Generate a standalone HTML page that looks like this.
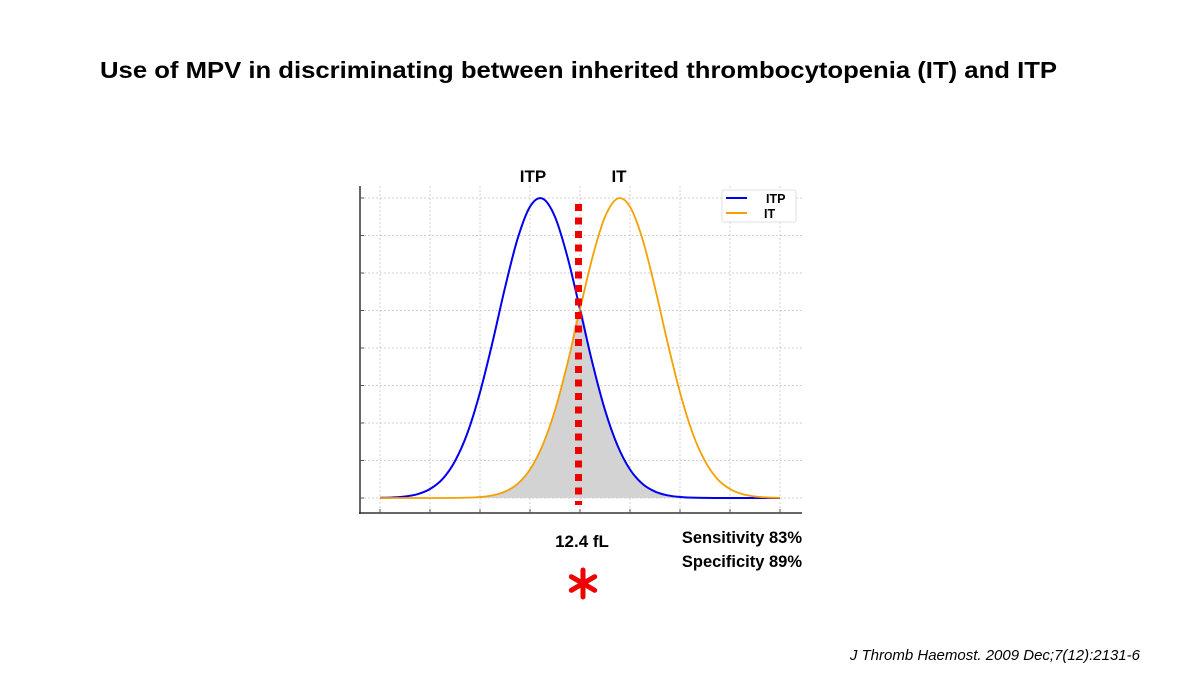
<!DOCTYPE html>
<html><head><meta charset="utf-8"><style>
html,body{margin:0;padding:0;background:#fff;}
svg{display:block;font-family:"Liberation Sans",sans-serif;}
</style></head><body>
<svg id="chart" width="1200" height="675" viewBox="0 0 1200 675">
<text x="100" y="78" font-size="23" font-weight="bold" fill="#000" textLength="957" lengthAdjust="spacingAndGlyphs">Use of MPV in discriminating between inherited thrombocytopenia (IT) and ITP</text>
<g id="grid"></g>
<path id="overlap" fill="#d3d3d3" stroke="none"/>
<path id="itpLine" fill="none" stroke="#0000ee" stroke-width="2"/>
<path id="itLine" fill="none" stroke="#f5a000" stroke-width="1.8"/>
<line id="cutoff" stroke="#ee0000" stroke-width="7" stroke-dasharray="7 6.5"/>
<g id="axes"></g>
<text x="533" y="182" font-size="17" font-weight="bold" text-anchor="middle">ITP</text>
<text x="619" y="182" font-size="17" font-weight="bold" text-anchor="middle">IT</text>
<g>
<rect x="722" y="190" width="74" height="32" fill="#fff" stroke="#e0e0e0" rx="2"/>
<line x1="726" y1="198" x2="747" y2="198" stroke="#0000ee" stroke-width="2"/>
<text x="766" y="203" font-size="12.5" font-weight="bold">ITP</text>
<line x1="726" y1="213" x2="747" y2="213" stroke="#f5a000" stroke-width="2"/>
<text x="764" y="218" font-size="12.5" font-weight="bold">IT</text>
</g>
<text x="582" y="547" font-size="17" font-weight="bold" text-anchor="middle">12.4 fL</text>
<text x="802" y="543" font-size="16.5" font-weight="bold" text-anchor="end">Sensitivity 83%</text>
<text x="802" y="567" font-size="16.5" font-weight="bold" text-anchor="end">Specificity 89%</text>
<g stroke="#ee0000" stroke-width="5" stroke-linecap="round">
<line x1="583" y1="570" x2="583" y2="597"/>
<line x1="571.3" y1="576.7" x2="594.7" y2="590.3"/>
<line x1="571.3" y1="590.3" x2="594.7" y2="576.7"/>
</g>
<text x="1140" y="660" font-size="15" font-style="italic" text-anchor="end">J Thromb Haemost. 2009 Dec;7(12):2131-6</text>
</svg>
<script>
const xValues = [0,0.25,0.5,0.75,1,1.25,1.5,1.75,2,2.25,2.5,2.75,3,3.25,3.5,3.75,4,4.25,4.5,4.75,5,5.25,5.5,5.75,6,6.25,6.5,6.75,7,7.25,7.5,7.75,8];
const itpValues = [0.0006,0.0018,0.005,0.0128,0.030,0.063,0.123,0.217,0.352,0.519,0.701,0.863,0.971,0.998,0.937,0.803,0.629,0.449,0.293,0.175,0.095,0.047,0.0215,0.0089,0.0034,0.0012,0.0004,0.0001,0,0,0,0,0];
const itValues = [0,0,0,0,0,0.0001,0.0004,0.0012,0.0034,0.0089,0.0215,0.047,0.095,0.175,0.293,0.449,0.629,0.803,0.937,0.998,0.971,0.863,0.701,0.519,0.352,0.217,0.123,0.063,0.030,0.0128,0.005,0.0018,0.0006];
const xTicks = [0,1,2,3,4,5,6,7,8];
const yTicks = [0,0.125,0.25,0.375,0.5,0.625,0.75,0.875,1];
const cutoffX = 3.97;

const sx = v => 380 + v * 50;
const sy = v => 498 - v * 300;
const NS = "http://www.w3.org/2000/svg";
function mk(tag, attrs, parent){ const e=document.createElementNS(NS,tag); for(const k in attrs) e.setAttribute(k,attrs[k]); parent.appendChild(e); return e; }

const grid = document.getElementById('grid');
xTicks.forEach(t => {
  const l = mk('line',{x1:sx(t),x2:sx(t),y1:186,y2:513,stroke:'#d0d0d0','stroke-width':1,'stroke-dasharray':'2 2'},grid);
  
  
});
yTicks.forEach(t => {
  const l = mk('line',{x1:360,x2:802,y1:sy(t),y2:sy(t),stroke:'#d0d0d0','stroke-width':1,'stroke-dasharray':'2 2'},grid);
  
  
});

function smoothPath(pts){
  let d = `M${pts[0][0]},${pts[0][1]}`;
  for(let i=0;i<pts.length-1;i++){
    const p0=pts[Math.max(0,i-1)],p1=pts[i],p2=pts[i+1],p3=pts[Math.min(pts.length-1,i+2)];
    const c1x=p1[0]+(p2[0]-p0[0])/6,c1y=p1[1]+(p2[1]-p0[1])/6;
    const c2x=p2[0]-(p3[0]-p1[0])/6,c2y=p2[1]-(p3[1]-p1[1])/6;
    d+=` C${c1x},${c1y} ${c2x},${c2y} ${p2[0]},${p2[1]}`;
  }
  return d;
}
const itpPts = xValues.map((x,i)=>[sx(x),sy(itpValues[i])]);
const itPts = xValues.map((x,i)=>[sx(x),sy(itValues[i])]);
document.getElementById('itpLine').setAttribute('d', smoothPath(itpPts));
document.getElementById('itLine').setAttribute('d', smoothPath(itPts));
const minPts = xValues.map((x,i)=>[sx(x),sy(Math.min(itpValues[i],itValues[i]))]);
document.getElementById('overlap').setAttribute('d', smoothPath(minPts)+` L${sx(xValues[xValues.length-1])},${sy(0)} L${sx(xValues[0])},${sy(0)} Z`);

const cut = document.getElementById('cutoff');
cut.setAttribute('x1', sx(cutoffX)); cut.setAttribute('x2', sx(cutoffX));
cut.setAttribute('y1', 204); cut.setAttribute('y2', 505);

const axes = document.getElementById('axes');
const ya = mk('line',{x1:360,x2:360,y1:186,y2:514,stroke:'#333','stroke-width':1.5},axes);


const xa = mk('line',{x1:359,x2:802,y1:513,y2:513,stroke:'#333','stroke-width':1.5},axes);


xTicks.forEach(t => {
  const l = mk('line',{x1:sx(t),x2:sx(t),y1:509,y2:513,stroke:'#555','stroke-width':1},axes);
  
  
});
yTicks.forEach(t => {
  const l = mk('line',{x1:360,x2:364,y1:sy(t),y2:sy(t),stroke:'#555','stroke-width':1},axes);
  
  
});
</script>
</body></html>
